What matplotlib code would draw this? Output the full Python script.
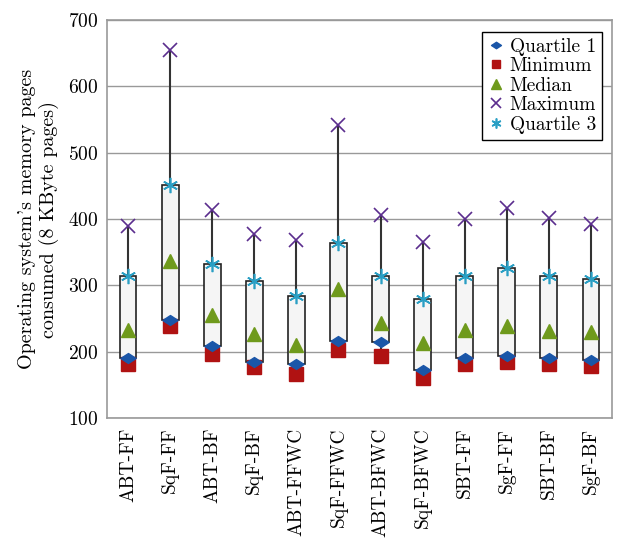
import matplotlib
matplotlib.use("Agg")
import matplotlib.pyplot as plt
from matplotlib.path import Path
import numpy as np

categories = ["ABT-FF", "SqF-FF", "ABT-BF", "SqF-BF", "ABT-FFWC", "SqF-FFWC",
              "ABT-BFWC", "SqF-BFWC", "SBT-FF", "SgF-FF", "SBT-BF", "SgF-BF"]
minimum   = [182, 238, 197, 177, 167, 203, 193, 160, 182, 184, 182, 179]
quartile1 = [190, 247, 209, 185, 181, 216, 214, 173, 190, 193, 191, 187]
median    = [233, 336, 256, 227, 210, 294, 243, 213, 233, 239, 231, 230]
quartile3 = [314, 451, 332, 307, 284, 364, 314, 279, 314, 326, 314, 310]
maximum   = [390, 655, 414, 378, 369, 541, 406, 366, 400, 416, 401, 393]
yticks = [100, 200, 300, 400, 500, 600, 700]

plt.rcParams["font.family"] = "serif"
plt.rcParams["font.serif"] = ["cmr10"]
plt.rcParams["mathtext.fontset"] = "cm"
plt.rcParams["axes.formatter.use_mathtext"] = True

FS = 14

fig = plt.figure(figsize=(6.18, 5.41), dpi=100)
ax = fig.add_axes([107 / 618, 1 - 418 / 541, (612 - 107) / 618, (418 - 20) / 541])

x = np.arange(len(categories))
width = 0.4

# flattened diamond like pgfplots' diamond*
diamond = Path([(-1, 0), (0, 0.65), (1, 0), (0, -0.65), (-1, 0)],
               [Path.MOVETO, Path.LINETO, Path.LINETO, Path.LINETO, Path.CLOSEPOLY])

ax.vlines(x, quartile3, maximum, color="#333333", lw=1.5, zorder=2)
ax.vlines(x, minimum, quartile1, color="#333333", lw=1.5, zorder=2)
ax.bar(x, np.array(quartile3) - np.array(quartile1), bottom=quartile1, width=width,
       facecolor="#f5f5f5", edgecolor="#222222", lw=1.2, zorder=3)

ax.plot(x, quartile1, marker=diamond, color="#1a56a8", ms=11, ls="none", zorder=6,
        label="Quartile 1")
ax.plot(x, minimum, "s", color="#b01212", ms=9.5, ls="none", zorder=4, label="Minimum")
ax.plot(x, median, "^", color="#6f9a1c", ms=10, ls="none", zorder=5, label="Median")
ax.plot(x, maximum, "x", color="#5b2d8e", ms=10, mew=1.2, ls="none", zorder=5,
        label="Maximum")
ax.plot(x, quartile3, marker=(6, 2, 0), color="#2a9fc4", ms=11, mew=1.2, ls="none",
        zorder=5, label="Quartile 3")

ax.set_xlim(-0.5, len(categories) - 0.5)
ax.set_ylim(100, 700)
ax.set_yticks(yticks)
ax.set_xticks(x)
ax.set_xticklabels(categories, rotation=90)
ax.tick_params(length=0, labelsize=FS)
ax.tick_params(axis="y", pad=6)
ax.tick_params(axis="x", pad=7)
ax.yaxis.grid(True, color="#999999", lw=1.0)
ax.set_axisbelow(True)
for s in ax.spines.values():
    s.set_color("#999999")
    s.set_linewidth(1.2)

ax.set_ylabel("Operating system's memory pages\nconsumed (8 KByte pages)", fontsize=14.5,
              linespacing=1.15, labelpad=7)

leg = ax.legend(loc="upper right", bbox_to_anchor=(0.98, 0.97), fontsize=FS,
                frameon=True, fancybox=False, edgecolor="black", framealpha=1,
                handlelength=0.8, handletextpad=0.3, borderpad=0.3,
                labelspacing=0.08, borderaxespad=0, markerscale=0.65)
leg.get_frame().set_linewidth(1.0)

fig.savefig("out.png", dpi=100)
